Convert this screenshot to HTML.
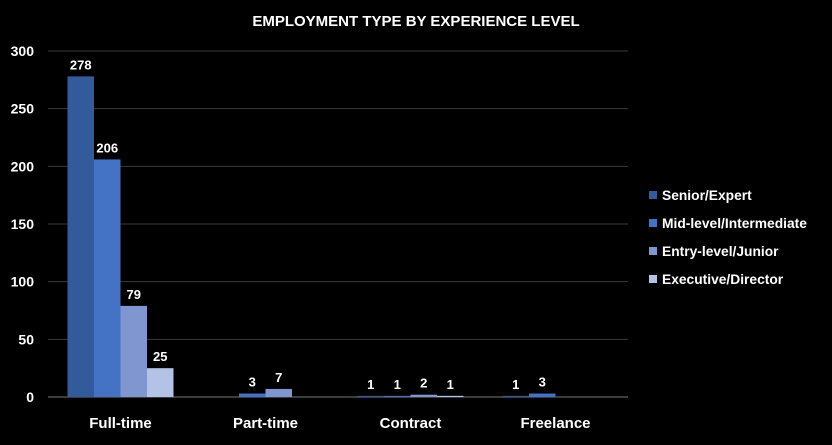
<!DOCTYPE html>
<html><head><meta charset="utf-8"><style>
body{margin:0;background:#000;width:832px;height:440px;overflow:hidden;font-family:"Liberation Sans",sans-serif;}
text{font-family:"Liberation Sans",sans-serif;font-weight:bold;}
</style></head><body>
<svg id="chart" width="832" height="440">
<text x="416" y="26" text-anchor="middle" fill="#fff" font-size="15">EMPLOYMENT TYPE BY EXPERIENCE LEVEL</text>
</svg>
<script>
const categories=["Full-time","Part-time","Contract","Freelance"];
const seriesNames=["Senior/Expert","Mid-level/Intermediate","Entry-level/Junior","Executive/Director"];
const senior=[278,0,1,1];
const mid=[206,3,1,3];
const entry=[79,7,2,0];
const exec=[25,0,1,0];
const yTicks=[0,50,100,150,200,250,300];
const series=[senior,mid,entry,exec];
const colors=["#335a9a","#4472c4","#7f96d0","#b4c2e6"];
const svg=document.getElementById('chart');
const NS="http://www.w3.org/2000/svg";
const x0=48,x1=628,y0=397,yTop=51,yMax=300;
const y=v=>y0-(v/yMax)*(y0-yTop);
const catW=(x1-x0)/categories.length;
const barW=26.5;
function mk(t,a){const e=document.createElementNS(NS,t);for(const k in a)e.setAttribute(k,a[k]);svg.appendChild(e);return e;}
yTicks.forEach(t=>{
 const l=mk('line',{x1:x0,x2:x1,y1:y(t),y2:y(t),stroke:t===0?'#777':'#3a3a3a','stroke-width':1});
 
 
 const tx=mk('text',{x:34,y:y(t)+5,'text-anchor':'end',fill:'#fff','font-size':14});
 tx.textContent=t;
 
 
});
categories.forEach((c,i)=>{
 const gx=x0+i*catW+(catW-barW*4)/2;
 series.forEach((s,j)=>{
  const v=s[i];
  const bx=gx+j*barW;
  if(v>0){
   const r=mk('rect',{x:bx,y:y(v),width:barW,height:y0-y(v),fill:colors[j]});
   
   
   const t=mk('text',{x:bx+barW/2,y:y(v)-7,'text-anchor':'middle',fill:'#fff','font-size':13});
   t.textContent=v;
   
   
  }
 });
 const ct=mk('text',{x:x0+i*catW+catW/2,y:428,'text-anchor':'middle',fill:'#fff','font-size':15});
 ct.textContent=c;
 
 
});
seriesNames.forEach((n,j)=>{
 const ly=200+j*28;
 const r=mk('rect',{x:649,y:ly-9,width:8,height:8,fill:colors[j]});
 
 
 const t=mk('text',{x:662,y:ly,fill:'#fff','font-size':13.8});
 t.textContent=n;
 
 
});
</script>
</body></html>
